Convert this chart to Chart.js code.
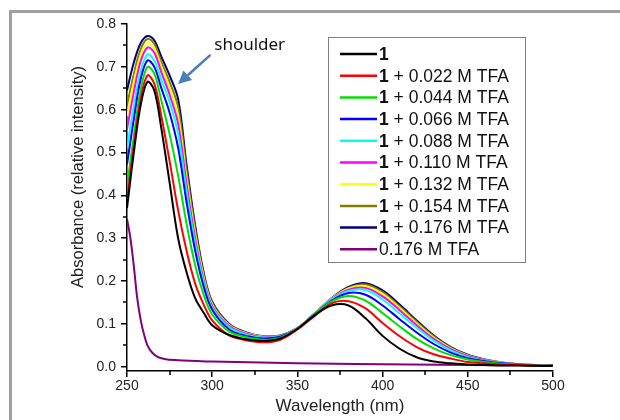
<!DOCTYPE html>
<html>
<head>
<meta charset="utf-8">
<script src="https://cdn.jsdelivr.net/npm/chart.js@4.4.0/dist/chart.umd.min.js"></script>
<style>
html,body{margin:0;padding:0;background:#fff;}
canvas{display:block;}
</style>
</head>
<body>
<canvas id="c" width="620" height="420"></canvas>
<script>
// ---------- DATA ----------
const wavelengths = [250,254,258,262,266,270,275,280,285,290,295,300,310,320,330,340,350,360,370,380,390,400,410,420,430,440,450,460,470,480,490,500];

const abs1        = [.370,.500,.610,.665,.645,.560,.430,.300,.220,.160,.126,.097,.074,.064,.060,.066,.088,.120,.143,.143,.113,.072,.042,.022,.012,.008,.005,.004,.003,.003,.002,.002];
const abs1tfa022  = [.389,.515,.625,.680,.661,.588,.480,.365,.270,.194,.145,.108,.073,.062,.057,.063,.087,.118,.148,.153,.136,.102,.071,.046,.029,.019,.011,.008,.005,.004,.003,.002];
const abs1tfa044  = [.420,.538,.646,.700,.684,.624,.543,.446,.333,.237,.168,.122,.082,.069,.063,.068,.089,.121,.152,.165,.154,.125,.094,.065,.043,.027,.017,.011,.007,.005,.003,.003];
const abs1tfa066  = [.472,.578,.671,.715,.700,.652,.593,.511,.383,.271,.187,.133,.087,.072,.066,.070,.089,.122,.154,.172,.168,.143,.111,.080,.053,.033,.020,.013,.008,.005,.003,.003];
const abs1tfa088  = [.510,.607,.690,.729,.715,.672,.618,.544,.408,.288,.197,.138,.092,.075,.068,.071,.090,.123,.157,.177,.179,.157,.124,.091,.061,.038,.023,.014,.009,.005,.004,.003];
const abs1tfa110  = [.554,.641,.713,.745,.733,.689,.635,.567,.425,.299,.203,.142,.095,.077,.069,.072,.090,.123,.158,.180,.184,.164,.132,.097,.065,.041,.025,.015,.009,.006,.004,.003];
const abs1tfa132  = [.585,.664,.727,.755,.743,.702,.650,.586,.440,.310,.209,.145,.097,.078,.070,.072,.090,.124,.159,.183,.188,.170,.137,.101,.068,.043,.026,.016,.010,.006,.004,.003];
const abs1tfa154  = [.609,.683,.741,.765,.754,.713,.665,.606,.455,.320,.214,.149,.098,.079,.070,.073,.090,.124,.159,.184,.192,.174,.141,.105,.071,.044,.027,.016,.010,.006,.004,.003];
const abs1tfa176  = [.645,.710,.755,.772,.762,.725,.680,.625,.470,.330,.220,.152,.100,.080,.071,.073,.090,.124,.160,.186,.195,.178,.145,.108,.073,.046,.028,.017,.010,.006,.004,.003];

const tfaWavelengths = [250,252,254,256,258,260,262,265,268,272,280,300,350,400,450,500];
const absTfaOnly     = [.345,.300,.235,.160,.110,.075,.050,.032,.023,.018,.015,.012,.008,.006,.004,.003];

const seriesLabels = ["1","1 + 0.022 M TFA","1 + 0.044 M TFA","1 + 0.066 M TFA","1 + 0.088 M TFA","1 + 0.110 M TFA","1 + 0.132 M TFA","1 + 0.154 M TFA","1 + 0.176 M TFA","0.176 M TFA"];
const xTickValues = [250,300,350,400,450,500];
const xMinorTicks = [275,325,375,425,475];
const yTickValues = [0.0,0.1,0.2,0.3,0.4,0.5,0.6,0.7,0.8];
const yMinorTicks = [0.05,0.15,0.25,0.35,0.45,0.55,0.65,0.75];
const annotationText = "shoulder";

// ---------- STYLE ----------
const seriesColors = ["#000000","#ff0000","#00e000","#0000ff","#00ffff","#ff00ff","#ffff00","#808000","#000080","#800080"];
const FONT = "'Liberation Sans', Arial, sans-serif";

const mainSeries = [abs1,abs1tfa022,abs1tfa044,abs1tfa066,abs1tfa088,abs1tfa110,abs1tfa132,abs1tfa154,abs1tfa176];
const datasets = mainSeries.map((vals,i)=>({
  label: seriesLabels[i],
  data: wavelengths.map((w,j)=>({x:w,y:vals[j]})),
  borderColor: seriesColors[i],
  borderWidth: 2,
  pointRadius: 0,
  tension: 0.35,
  fill: false
}));
datasets.push({
  label: seriesLabels[9],
  data: tfaWavelengths.map((w,j)=>({x:w,y:absTfaOnly[j]})),
  borderColor: seriesColors[9],
  borderWidth: 2,
  pointRadius: 0,
  cubicInterpolationMode: 'monotone',
  fill: false
});

const framePlugin = {
  id: 'frame',
  beforeDraw(chart){
    const c = chart.ctx;
    c.save();
    c.fillStyle = '#fff';
    c.fillRect(0,0,chart.width,chart.height);
    c.fillStyle = '#a0a0a0';
    c.fillRect(9,10,3,chart.height-10);
    c.fillRect(9,10,chart.width-9,3);
    c.restore();
  }
};

const extrasPlugin = {
  id: 'extras',
  afterDraw(chart){
    const c = chart.ctx;
    const xs = chart.scales.x, ys = chart.scales.y;
    const a = chart.chartArea;
    c.save();
    // minor ticks
    c.strokeStyle = '#000';
    c.lineWidth = 1.5;
    xMinorTicks.forEach(v=>{
      const px = Math.round(xs.getPixelForValue(v));
      c.beginPath(); c.moveTo(px, a.bottom); c.lineTo(px, a.bottom+4); c.stroke();
    });
    yMinorTicks.forEach(v=>{
      const py = Math.round(ys.getPixelForValue(v));
      c.beginPath(); c.moveTo(a.left, py); c.lineTo(a.left-4, py); c.stroke();
    });
    // y title
    c.save();
    c.translate(78, 177);
    c.rotate(-Math.PI/2);
    c.font = "16.5px " + FONT;
    c.fillStyle = '#222';
    c.textAlign = 'center';
    c.textBaseline = 'middle';
    c.fillText(chart.options.scales.y.title.text, 0, 0);
    c.restore();

    // legend
    const bx = 328, by = 37, bw = 197, bh = 225;
    c.fillStyle = '#fff';
    c.fillRect(bx, by, bw, bh);
    c.strokeStyle = '#808080';
    c.lineWidth = 1;
    c.strokeRect(bx+0.5, by+0.5, bw, bh);
    chart.data.datasets.forEach((ds,i)=>{
      const cy = 54 + i*21.7;
      c.strokeStyle = ds.borderColor;
      c.lineWidth = 2.5;
      c.beginPath(); c.moveTo(340, cy); c.lineTo(377, cy); c.stroke();
      c.fillStyle = '#111';
      c.textBaseline = 'middle';
      c.textAlign = 'left';
      let tx = 379;
      let txt = ds.label;
      if (txt.startsWith('1')) {
        c.font = "bold 17.5px " + FONT;
        c.fillText('1', tx, cy+1);
        tx += c.measureText('1').width;
        txt = txt.slice(1);
      }
      c.font = "17.5px " + FONT;
      c.fillText(txt, tx, cy+1);
    });

    // annotation
    c.font = "17px 'Noto Sans', sans-serif";
    c.fillStyle = '#111';
    c.textAlign = 'center';
    c.textBaseline = 'middle';
    c.fillText(annotationText, xs.getPixelForValue(322), ys.getPixelForValue(0.751));
    const fx = xs.getPixelForValue(299), fy = ys.getPixelForValue(0.728);
    const tx2 = xs.getPixelForValue(280), ty2 = ys.getPixelForValue(0.66);
    const ang = Math.atan2(ty2-fy, tx2-fx);
    const hl = 13, hw = 6.5;
    const bxp = tx2 - hl*Math.cos(ang), byp = ty2 - hl*Math.sin(ang);
    c.strokeStyle = '#4a7ebb';
    c.fillStyle = '#4a7ebb';
    c.lineWidth = 2.5;
    c.beginPath(); c.moveTo(fx, fy); c.lineTo(bxp, byp); c.stroke();
    c.beginPath();
    c.moveTo(tx2, ty2);
    c.lineTo(bxp + hw*Math.sin(ang), byp - hw*Math.cos(ang));
    c.lineTo(bxp - hw*Math.sin(ang), byp + hw*Math.cos(ang));
    c.closePath(); c.fill();
    c.restore();
  }
};

new Chart(document.getElementById('c'), {
  type: 'line',
  data: { datasets },
  plugins: [framePlugin, extrasPlugin],
  options: {
    responsive: false,
    animation: false,
    devicePixelRatio: 1,
    layout: { padding: { left: 0, right: 67, top: 24, bottom: 0 } },
    plugins: { legend: { display: false }, tooltip: { enabled: false } },
    scales: {
      x: {
        type: 'linear',
        min: 250, max: 500,
        afterBuildTicks(s){ s.ticks = xTickValues.map(v=>({value:v})); },
        afterFit(s){ s.height = 49; },
        grid: { drawOnChartArea: false, drawTicks: true, tickLength: 6, color: '#000', lineWidth: 1.5 },
        border: { display: true, color: '#000', width: 1.5 },
        ticks: { font: { family: FONT, size: 14 }, color: '#222', padding: 1, maxRotation: 0, callback: v => String(v) },
        title: { display: true, text: 'Wavelength (nm)', font: { family: FONT, size: 17 }, color: '#222', padding: { top: 0, bottom: 3 } }
      },
      y: {
        min: -0.01, max: 0.8,
        afterBuildTicks(s){ s.ticks = yTickValues.map(v=>({value:v})); },
        afterFit(s){ s.width = 127; },
        grid: { drawOnChartArea: false, drawTicks: true, tickLength: 6, color: '#000', lineWidth: 1.5 },
        border: { display: true, color: '#000', width: 1.5 },
        ticks: { font: { family: FONT, size: 14 }, color: '#222', padding: 5, callback: v => Number(v).toFixed(1) },
        title: { display: false, text: 'Absorbance (relative intensity)' }
      }
    }
  }
});
</script>
</body>
</html>
